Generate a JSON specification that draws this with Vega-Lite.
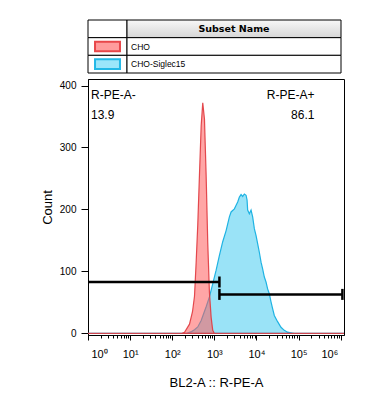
{
  "$schema": "https://vega.github.io/schema/vega-lite/v6.json",
  "padding": {"left": 40, "top": 19, "right": 5, "bottom": 5},
  "config": {
    "font": "Liberation Sans",
    "view": {"stroke": "black", "strokeWidth": 1},
    "axis": {"grid": false, "domainColor": "black", "tickColor": "black", "labelColor": "black", "titleColor": "black", "titleFontWeight": "normal", "labelFont": "Liberation Sans", "titleFont": "Liberation Sans"}
  },
  "datasets": {
    "legend": [
      {"label": "Subset Name", "kind": "header"},
      {"label": "CHO", "kind": "sample"},
      {"label": "CHO-Siglec15", "kind": "sample"}
    ],
    "hist": [
      {"sample": "CHO-Siglec15", "x": 1, "count": 0},
      {"sample": "CHO-Siglec15", "x": 215, "count": 0},
      {"sample": "CHO-Siglec15", "x": 287, "count": 3},
      {"sample": "CHO-Siglec15", "x": 338, "count": 6},
      {"sample": "CHO-Siglec15", "x": 404, "count": 10.5},
      {"sample": "CHO-Siglec15", "x": 487, "count": 21},
      {"sample": "CHO-Siglec15", "x": 639, "count": 43},
      {"sample": "CHO-Siglec15", "x": 765, "count": 59},
      {"sample": "CHO-Siglec15", "x": 916, "count": 80},
      {"sample": "CHO-Siglec15", "x": 1103, "count": 102},
      {"sample": "CHO-Siglec15", "x": 1321, "count": 126},
      {"sample": "CHO-Siglec15", "x": 1581, "count": 148},
      {"sample": "CHO-Siglec15", "x": 1904, "count": 166},
      {"sample": "CHO-Siglec15", "x": 2278, "count": 188},
      {"sample": "CHO-Siglec15", "x": 2500, "count": 196},
      {"sample": "CHO-Siglec15", "x": 2994, "count": 201},
      {"sample": "CHO-Siglec15", "x": 3289, "count": 207},
      {"sample": "CHO-Siglec15", "x": 3587, "count": 212},
      {"sample": "CHO-Siglec15", "x": 3934, "count": 220},
      {"sample": "CHO-Siglec15", "x": 4316, "count": 224},
      {"sample": "CHO-Siglec15", "x": 4710, "count": 221},
      {"sample": "CHO-Siglec15", "x": 5166, "count": 225},
      {"sample": "CHO-Siglec15", "x": 5670, "count": 223},
      {"sample": "CHO-Siglec15", "x": 5988, "count": 215},
      {"sample": "CHO-Siglec15", "x": 6185, "count": 199},
      {"sample": "CHO-Siglec15", "x": 6789, "count": 193},
      {"sample": "CHO-Siglec15", "x": 7448, "count": 199},
      {"sample": "CHO-Siglec15", "x": 8128, "count": 188},
      {"sample": "CHO-Siglec15", "x": 8913, "count": 169},
      {"sample": "CHO-Siglec15", "x": 9790, "count": 158},
      {"sample": "CHO-Siglec15", "x": 10674, "count": 145},
      {"sample": "CHO-Siglec15", "x": 11710, "count": 131},
      {"sample": "CHO-Siglec15", "x": 12850, "count": 115},
      {"sample": "CHO-Siglec15", "x": 14030, "count": 104},
      {"sample": "CHO-Siglec15", "x": 15390, "count": 91},
      {"sample": "CHO-Siglec15", "x": 16880, "count": 83},
      {"sample": "CHO-Siglec15", "x": 18420, "count": 72},
      {"sample": "CHO-Siglec15", "x": 20220, "count": 64},
      {"sample": "CHO-Siglec15", "x": 22180, "count": 51},
      {"sample": "CHO-Siglec15", "x": 24210, "count": 40},
      {"sample": "CHO-Siglec15", "x": 26560, "count": 29},
      {"sample": "CHO-Siglec15", "x": 31770, "count": 19},
      {"sample": "CHO-Siglec15", "x": 38280, "count": 10},
      {"sample": "CHO-Siglec15", "x": 45810, "count": 5},
      {"sample": "CHO-Siglec15", "x": 54850, "count": 2},
      {"sample": "CHO-Siglec15", "x": 66070, "count": 1},
      {"sample": "CHO-Siglec15", "x": 79070, "count": 0},
      {"sample": "CHO-Siglec15", "x": 1200000, "count": 0},
      {"sample": "CHO", "x": 1, "count": 0},
      {"sample": "CHO", "x": 163, "count": 0},
      {"sample": "CHO", "x": 196, "count": 2},
      {"sample": "CHO", "x": 257, "count": 15},
      {"sample": "CHO", "x": 303, "count": 35},
      {"sample": "CHO", "x": 338, "count": 60},
      {"sample": "CHO", "x": 370, "count": 115},
      {"sample": "CHO", "x": 404, "count": 175},
      {"sample": "CHO", "x": 443, "count": 255},
      {"sample": "CHO", "x": 487, "count": 335},
      {"sample": "CHO", "x": 531, "count": 372},
      {"sample": "CHO", "x": 583, "count": 346},
      {"sample": "CHO", "x": 639, "count": 255},
      {"sample": "CHO", "x": 698, "count": 146},
      {"sample": "CHO", "x": 765, "count": 66},
      {"sample": "CHO", "x": 840, "count": 26},
      {"sample": "CHO", "x": 916, "count": 5},
      {"sample": "CHO", "x": 1005, "count": 0},
      {"sample": "CHO", "x": 1200000, "count": 0}
    ],
    "gates": [
      {"gate": "R-PE-A-", "pct": "13.9", "side": "left", "lo": 1, "hi": 1321, "level": 83},
      {"gate": "R-PE-A+", "pct": "86.1", "side": "right", "lo": 1321, "hi": 1100000, "level": 63}
    ],
    "gateEnds": [
      {"gate": "R-PE-A-", "x": 1321, "level": 83},
      {"gate": "R-PE-A+", "x": 1321, "level": 63},
      {"gate": "R-PE-A+", "x": 1100000, "level": 63}
    ]
  },
  "spacing": 4,
  "bounds": "full",
  "vconcat": [
    {
      "spacing": 0,
      "bounds": "flush",
      "hconcat": [
        {
          "width": 39,
          "height": 53,
          "view": {"stroke": null},
          "data": {"name": "legend"},
          "layer": [
            {
              "mark": {"type": "rect", "fill": "white", "stroke": "black", "strokeWidth": 1},
              "encoding": {
                "x": {"datum": "c", "type": "nominal", "axis": null, "scale": {"paddingInner": 0, "paddingOuter": 0}},
                "y": {"field": "label", "type": "nominal", "scale": {"domain": ["Subset Name", "CHO", "CHO-Siglec15"], "paddingInner": 0, "paddingOuter": 0},
                  "axis": {"labels": false, "ticks": false, "domain": false, "title": null, "minExtent": 47, "maxExtent": 47}}
              }
            },
            {
              "transform": [{"filter": "datum.kind === 'sample'"}],
              "mark": {"type": "bar", "width": {"band": 0.64}, "height": {"band": 0.55}, "strokeWidth": 2},
              "encoding": {
                "x": {"datum": "c", "type": "nominal"},
                "y": {"field": "label", "type": "nominal"},
                "fill": {"field": "label", "type": "nominal", "legend": null, "scale": {"domain": ["CHO", "CHO-Siglec15"], "range": ["#ff9c9c", "#9be6fa"]}},
                "stroke": {"field": "label", "type": "nominal", "legend": null, "scale": {"domain": ["CHO", "CHO-Siglec15"], "range": ["#e8474a", "#22b8e6"]}}
              }
            }
          ]
        },
        {
          "width": 214,
          "height": 53,
          "view": {"stroke": null},
          "data": {"name": "legend"},
          "layer": [
            {
              "transform": [{"filter": "datum.kind === 'header'"}],
              "mark": {"type": "rect", "stroke": "black", "strokeWidth": 1,
                "fill": {"gradient": "linear", "x1": 0, "y1": 0, "x2": 0, "y2": 1, "stops": [{"offset": 0, "color": "#f8f8f8"}, {"offset": 1, "color": "#d6d6d6"}]}},
              "encoding": {
                "x": {"datum": "c", "type": "nominal", "axis": null, "scale": {"paddingInner": 0, "paddingOuter": 0}},
                "y": {"field": "label", "type": "nominal", "axis": null, "scale": {"domain": ["Subset Name", "CHO", "CHO-Siglec15"], "paddingInner": 0, "paddingOuter": 0}}
              }
            },
            {
              "transform": [{"filter": "datum.kind === 'sample'"}],
              "mark": {"type": "rect", "fill": "white", "stroke": "black", "strokeWidth": 1},
              "encoding": {
                "x": {"datum": "c", "type": "nominal", "axis": null},
                "y": {"field": "label", "type": "nominal", "axis": null}
              }
            },
            {
              "transform": [{"filter": "datum.kind === 'header'"}],
              "mark": {"type": "text", "font": "DejaVu Sans", "fontWeight": "bold", "fontSize": 9.5, "baseline": "middle", "color": "black"},
              "encoding": {
                "x": {"datum": "c", "type": "nominal", "axis": null},
                "y": {"field": "label", "type": "nominal", "axis": null},
                "text": {"field": "label"}
              }
            },
            {
              "transform": [{"filter": "datum.kind === 'sample'"}],
              "mark": {"type": "text", "align": "left", "dx": 4, "fontSize": 8.5, "baseline": "middle", "color": "black"},
              "encoding": {
                "x": {"datum": "c", "type": "nominal", "axis": null, "bandPosition": 0},
                "y": {"field": "label", "type": "nominal", "axis": null},
                "text": {"field": "label"}
              }
            }
          ]
        }
      ]
    },
    {
      "width": 256,
      "height": 256,
      "layer": [
        {
          "data": {"name": "hist"},
          "transform": [{"filter": "datum.sample === 'CHO-Siglec15'"}],
          "mark": {"type": "area", "fill": "#36c8f0", "fillOpacity": 0.5, "stroke": "#1fb3e3", "strokeWidth": 1.2, "clip": true},
          "encoding": {
            "x": {
              "field": "x", "type": "quantitative", "title": "BL2-A :: R-PE-A",
              "scale": {"type": "log", "domain": [1, 1200000], "nice": false},
              "axis": {
                "values": [1,2,3,4,5,6,7,8,9,10,20,30,40,50,60,70,80,90,100,200,300,400,500,600,700,800,900,1000,2000,3000,4000,5000,6000,7000,8000,9000,10000,20000,30000,40000,50000,60000,70000,80000,90000,100000,200000,300000,400000,500000,600000,700000,800000,900000,1000000],
                "labelExpr": "datum.value === 1 ? '10⁰' : datum.value === 10 ? '10¹' : datum.value === 100 ? '10²' : datum.value === 1000 ? '10³' : datum.value === 10000 ? '10⁴' : datum.value === 100000 ? '10⁵' : datum.value === 1000000 ? '10⁶' : ''",
                "tickSize": {"condition": {"test": "indexof([1,10,100,1000,10000,100000,1000000], datum.value) >= 0", "value": 5}, "value": 3},
                "labelFlush": 5,
                "labelFlushOffset": -3,
                "labelOverlap": false,
                "labelBound": false,
                "labelFontSize": 11,
                "labelPadding": 8,
                "titleFontSize": 13,
                "titlePadding": 17
              }
            },
            "y": {
              "field": "count", "type": "quantitative", "title": "Count",
              "scale": {"domain": [-2.5, 410.5], "nice": false, "zero": false},
              "axis": {
                "values": [0,25,50,75,100,125,150,175,200,225,250,275,300,325,350,375,400],
                "labelExpr": "datum.value % 100 === 0 ? datum.label : ''",
                "tickSize": {"condition": {"test": "datum.value % 100 === 0", "value": 7}, "value": 4},
                "labelOverlap": false,
                "labelFontSize": 10,
                "labelPadding": 5,
                "titleFontSize": 13,
                "titlePadding": 4,
                "minExtent": 30,
                "maxExtent": 30
              }
            }
          }
        },
        {
          "data": {"name": "hist"},
          "transform": [{"filter": "datum.sample === 'CHO'"}],
          "mark": {"type": "area", "fill": "#ff5c5c", "fillOpacity": 0.55, "stroke": "#e0393e", "strokeWidth": 1.2, "strokeOpacity": 0.9, "clip": true},
          "encoding": {
            "x": {"field": "x", "type": "quantitative", "title": "BL2-A :: R-PE-A"},
            "y": {"field": "count", "type": "quantitative", "title": "Count"}
          }
        },
        {
          "data": {"name": "gates"},
          "mark": {"type": "rule", "color": "black", "strokeWidth": 2.5},
          "encoding": {
            "x": {"field": "lo", "type": "quantitative", "title": "BL2-A :: R-PE-A"},
            "x2": {"field": "hi"},
            "y": {"field": "level", "type": "quantitative", "title": "Count"}
          }
        },
        {
          "data": {"name": "gateEnds"},
          "mark": {"type": "tick", "orient": "vertical", "size": 11, "thickness": 2.5, "color": "black", "opacity": 1},
          "encoding": {
            "x": {"field": "x", "type": "quantitative", "title": "BL2-A :: R-PE-A"},
            "y": {"field": "level", "type": "quantitative", "title": "Count"}
          }
        },
        {
          "data": {"name": "gates"},
          "transform": [{"filter": "datum.side === 'left'"}],
          "mark": {"type": "text", "align": "left", "baseline": "middle", "dx": 3, "fontSize": 12, "color": "black"},
          "encoding": {
            "x": {"field": "lo", "type": "quantitative", "title": "BL2-A :: R-PE-A"},
            "y": {"datum": 385, "type": "quantitative", "title": "Count"},
            "text": {"field": "gate"}
          }
        },
        {
          "data": {"name": "gates"},
          "transform": [{"filter": "datum.side === 'left'"}],
          "mark": {"type": "text", "align": "left", "baseline": "middle", "dx": 3, "dy": 20, "fontSize": 12, "color": "black"},
          "encoding": {
            "x": {"field": "lo", "type": "quantitative", "title": "BL2-A :: R-PE-A"},
            "y": {"datum": 385, "type": "quantitative", "title": "Count"},
            "text": {"field": "pct"}
          }
        },
        {
          "data": {"name": "gates"},
          "transform": [{"filter": "datum.side === 'right'"}],
          "mark": {"type": "text", "align": "right", "baseline": "middle", "dx": -28, "fontSize": 12, "color": "black"},
          "encoding": {
            "x": {"field": "hi", "type": "quantitative", "title": "BL2-A :: R-PE-A"},
            "y": {"datum": 385, "type": "quantitative", "title": "Count"},
            "text": {"field": "gate"}
          }
        },
        {
          "data": {"name": "gates"},
          "transform": [{"filter": "datum.side === 'right'"}],
          "mark": {"type": "text", "align": "right", "baseline": "middle", "dx": -28, "dy": 20, "fontSize": 12, "color": "black"},
          "encoding": {
            "x": {"field": "hi", "type": "quantitative", "title": "BL2-A :: R-PE-A"},
            "y": {"datum": 385, "type": "quantitative", "title": "Count"},
            "text": {"field": "pct"}
          }
        }
      ]
    }
  ]
}
